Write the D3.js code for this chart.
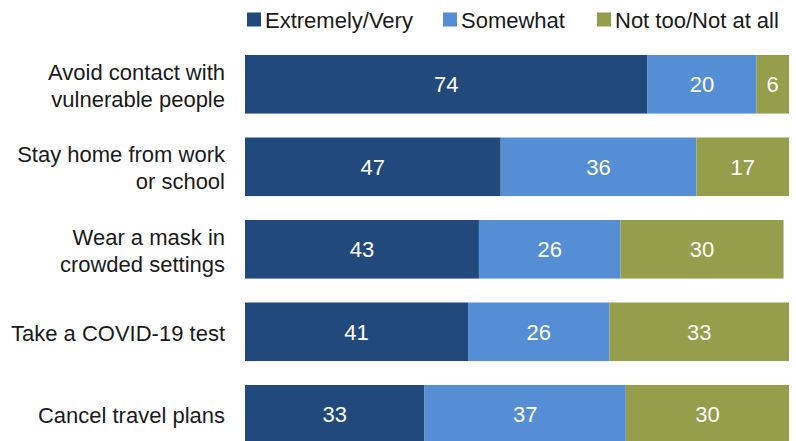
<!DOCTYPE html>
<html>
<head>
<meta charset="utf-8">
<script src="https://cdn.jsdelivr.net/npm/d3@7"></script>
<style>
  html, body { margin: 0; padding: 0; background: #fff; }
  svg { display: block; }
  text { font-family: "Liberation Sans", Arial, sans-serif; }
</style>
</head>
<body>
<svg id="chart" width="796" height="441"></svg>
<script>
// Survey items (two-line labels split by "\n")
const categories = [
  "Avoid contact with\nvulnerable people",
  "Stay home from work\nor school",
  "Wear a mask in\ncrowded settings",
  "Take a COVID-19 test",
  "Cancel travel plans"
];
const seriesNames = ["Extremely/Very", "Somewhat", "Not too/Not at all"];
const extremelyVery = [74, 47, 43, 41, 33];
const somewhat      = [20, 36, 26, 26, 37];
const notTooNotAll  = [6, 17, 30, 33, 30];
const colors = ["#22497c", "#558ed5", "#969d4b"];

const svg = d3.select("#chart");
const W = 796;
const margin = { left: 245, right: 7, top: 55 };
const step = 82.5, padInner = 0.29;

const x = d3.scaleLinear().domain([0, 100]).range([margin.left, W - margin.right]);
const y = d3.scaleBand().domain(d3.range(categories.length))
  .range([margin.top, margin.top + step * (categories.length - padInner)])
  .paddingInner(padInner).paddingOuter(0);

const rows = categories.map((c, i) => {
  const vals = [extremelyVery[i], somewhat[i], notTooNotAll[i]];
  let acc = 0;
  return vals.map((v, k) => {
    const seg = { row: i, k, v, x0: acc, x1: acc + v };
    acc += v;
    return seg;
  });
});

const FS = 22;

// Stacked segments with value labels
const g = svg.append("g");
rows.forEach(segs => {
  g.selectAll(null).data(segs).enter().append("rect")
    .attr("x", d => x(d.x0))
    .attr("y", d => y(d.row))
    .attr("width", d => x(d.x1) - x(d.x0))
    .attr("height", y.bandwidth())
    .attr("fill", d => colors[d.k]);
  g.selectAll(null).data(segs).enter().append("text")
    .attr("x", d => (x(d.x0) + x(d.x1)) / 2)
    .attr("y", d => y(d.row) + y.bandwidth() / 2)
    .attr("dy", "0.36em")
    .attr("text-anchor", "middle")
    .attr("fill", "#fff")
    .attr("font-size", FS)
    .text(d => d.v);
});

// Category labels
categories.forEach((c, i) => {
  const lines = c.split("\n");
  const cy = y(i) + y.bandwidth() / 2 + 1;
  const lh = 27;
  const t = svg.append("text")
    .attr("text-anchor", "end")
    .attr("font-size", FS)
    .attr("fill", "#1a1a1a");
  lines.forEach((ln, j) => {
    t.append("tspan")
      .attr("x", 225)
      .attr("y", cy + (j - (lines.length - 1) / 2) * lh)
      .attr("dy", "0.36em")
      .text(ln);
  });
});

// Legend
const legendX = [247, 443, 597];
const lg = svg.append("g");
seriesNames.forEach((s, k) => {
  lg.append("rect").attr("x", legendX[k]).attr("y", 12.5).attr("width", 14).attr("height", 14)
    .attr("fill", colors[k]);
  lg.append("text").attr("x", legendX[k] + 18).attr("y", 20).attr("dy", "0.36em")
    .attr("font-size", FS).attr("fill", "#1a1a1a").text(s);
});
</script>
</body>
</html>
